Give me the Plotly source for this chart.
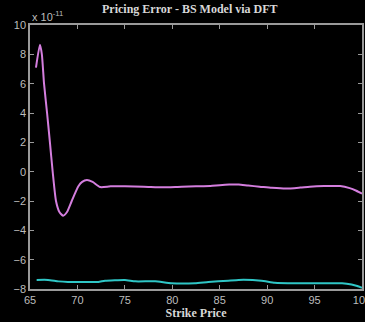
import plotly.graph_objects as go

# Magenta series (pricing error, scaled by 1e-11)
k_mag = [65.63, 66.05, 66.25, 66.48, 66.8, 67.1, 67.39, 67.74, 68.1, 68.5, 68.9, 69.4, 70.1, 70.5, 71.0,
         71.6, 72.4, 73.5, 75.0, 77.0, 79.0, 81.0, 82.5, 84.0, 85.0, 86.0, 87.0, 88.0, 89.2, 90.5,
         92.0, 93.5, 94.5, 96.0, 97.7, 98.7, 99.4, 100.0]
e_mag = [7.1, 8.66, 8.0, 6.0, 4.0, 2.0, 0.0, -2.0, -2.75, -3.0, -2.75, -2.0, -1.0, -0.7, -0.57,
         -0.7, -1.05, -1.0, -1.0, -1.02, -1.07, -1.02, -1.0, -0.98, -0.92, -0.88, -0.88, -0.95, -1.02, -1.1,
         -1.15, -1.08, -1.02, -0.98, -0.98, -1.12, -1.3, -1.5]

# Cyan series
k_cyan = [65.7, 66.9, 68.0, 69.0, 72.2, 72.9, 75.0, 76.1, 78.2, 79.9, 82.4, 83.8, 85.9, 87.0,
          89.4, 90.8, 93.0, 97.9, 98.9, 99.5, 100.0]
e_cyan = [-7.38, -7.38, -7.48, -7.52, -7.52, -7.43, -7.38, -7.48, -7.48, -7.61, -7.61, -7.52, -7.43, -7.38,
          -7.43, -7.57, -7.61, -7.61, -7.7, -7.8, -7.92]

x_ticks = [65, 70, 75, 80, 85, 90, 95, 100]
y_ticks = [-8, -6, -4, -2, 0, 2, 4, 6, 8, 10]

fig = go.Figure()
fig.add_trace(go.Scatter(x=k_mag, y=e_mag, mode="lines",
                         line=dict(color="#d47ede", width=2, shape="spline", smoothing=0.6)))
fig.add_trace(go.Scatter(x=k_cyan, y=e_cyan, mode="lines",
                         line=dict(color="#2fc6c6", width=2, shape="spline", smoothing=0.4)))

axis_common = dict(showgrid=False, zeroline=False, showline=True, linecolor="#9a9a9a", linewidth=1.5,
                   mirror="ticks", ticks="inside", ticklen=4, tickcolor="#9a9a9a",
                   ticklabeloverflow="allow", automargin=False,
                   tickfont=dict(family="Liberation Sans", size=11, color="#bdbdbd"))

fig.update_layout(
    width=365, height=322,
    paper_bgcolor="black", plot_bgcolor="black",
    margin=dict(l=30, r=3, t=25, b=33),
    showlegend=False,
    title=dict(text="<b>Pricing Error - BS Model via DFT</b>", x=0.52, xanchor="center", y=0.985, yanchor="top",
               font=dict(family="Liberation Serif", size=12, color="#d8d8d8")),
    xaxis=dict(range=[65, 100], tickvals=x_ticks, **axis_common,
               title=dict(text="<b>Strike Price</b>", standoff=2,
                          font=dict(family="Liberation Serif", size=12, color="#d8d8d8"))),
    yaxis=dict(range=[-8, 10], tickvals=y_ticks, **axis_common),
    annotations=[dict(text="x 10<sup>-11</sup>", xref="paper", yref="paper", x=0.0, y=1.0,
                      xanchor="left", yanchor="bottom", showarrow=False,
                      font=dict(family="Liberation Sans", size=11, color="#bdbdbd"))],
)

fig.write_html("out.html")
